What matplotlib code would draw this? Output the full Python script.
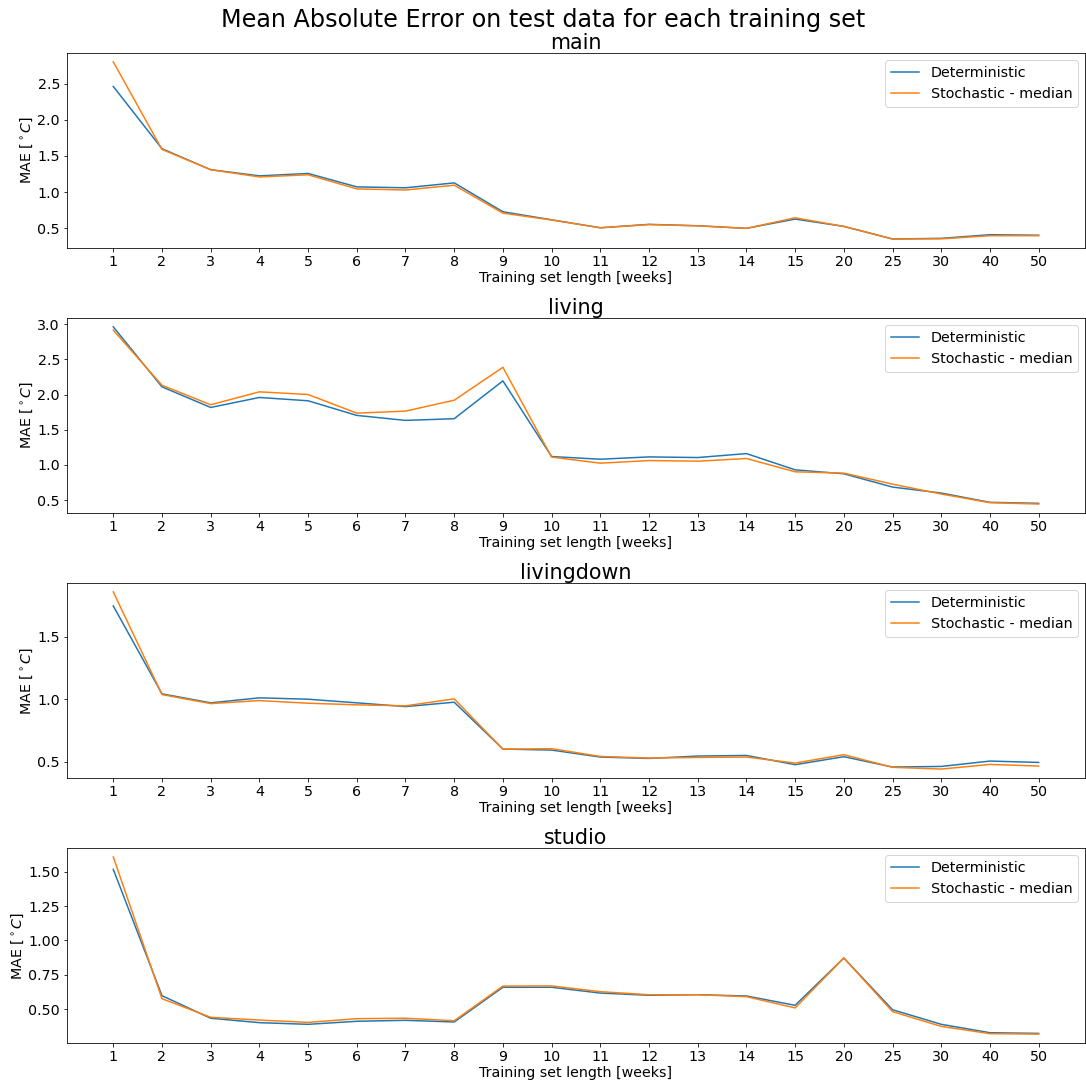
import matplotlib
matplotlib.use('Agg')
import matplotlib.pyplot as plt

# training set lengths (weeks), plotted as categories
weeks = ['1', '2', '3', '4', '5', '6', '7', '8', '9', '10',
         '11', '12', '13', '14', '15', '20', '25', '30', '40', '50']

rooms = ['main', 'living', 'livingdown', 'studio']

# MAE per room
main_det = [2.46, 1.60, 1.31, 1.225, 1.258, 1.073, 1.06, 1.128, 0.729, 0.618,
            0.508, 0.555, 0.536, 0.50, 0.628, 0.527, 0.353, 0.362, 0.412, 0.405]
main_sto = [2.80, 1.59, 1.31, 1.21, 1.24, 1.045, 1.03, 1.096, 0.71, 0.615,
            0.508, 0.552, 0.534, 0.50, 0.646, 0.527, 0.353, 0.355, 0.398, 0.398]

living_det = [2.962, 2.109, 1.816, 1.958, 1.911, 1.703, 1.632, 1.656, 2.194, 1.118,
              1.08, 1.113, 1.104, 1.16, 0.929, 0.873, 0.684, 0.599, 0.467, 0.453]
living_sto = [2.915, 2.132, 1.854, 2.038, 2.0, 1.735, 1.764, 1.919, 2.387, 1.11,
              1.024, 1.061, 1.052, 1.09, 0.901, 0.882, 0.726, 0.585, 0.462, 0.443]

livingdown_det = [1.747, 1.043, 0.971, 1.011, 1.0, 0.971, 0.941, 0.976, 0.601, 0.593,
                  0.537, 0.526, 0.545, 0.55, 0.476, 0.54, 0.457, 0.462, 0.505, 0.494]
livingdown_sto = [1.859, 1.037, 0.965, 0.989, 0.968, 0.955, 0.947, 1.003, 0.60, 0.604,
                  0.542, 0.529, 0.534, 0.537, 0.489, 0.556, 0.455, 0.441, 0.478, 0.465]

studio_det = [1.517, 0.599, 0.435, 0.403, 0.391, 0.413, 0.42, 0.408, 0.66, 0.66,
              0.618, 0.602, 0.606, 0.597, 0.529, 0.873, 0.497, 0.391, 0.33, 0.325]
studio_sto = [1.607, 0.577, 0.442, 0.422, 0.405, 0.432, 0.435, 0.417, 0.669, 0.67,
              0.628, 0.606, 0.606, 0.592, 0.51, 0.873, 0.483, 0.376, 0.323, 0.32]

det = [main_det, living_det, livingdown_det, studio_det]
sto = [main_sto, living_sto, livingdown_sto, studio_sto]

fs = 14.2
fig, axes = plt.subplots(4, 1, figsize=(1086 / 72, 1081 / 72), dpi=72)
fig.subplots_adjust(left=0.0617, right=0.999, top=0.951, bottom=0.0352, hspace=0.36)

for ax, room, d, s in zip(axes, rooms, det, sto):
    ax.plot(weeks, d, color='tab:blue', lw=1.5, label='Deterministic')
    ax.plot(weeks, s, color='tab:orange', lw=1.5, label='Stochastic - median')
    ax.set_title(room, fontsize=20.6, pad=4)
    ax.set_xlabel('Training set length [weeks]', fontsize=fs, labelpad=2)
    ax.set_ylabel(r'MAE [$^\circ C$]', fontsize=fs, labelpad=2)
    ax.tick_params(labelsize=fs)
    ax.legend(loc='upper right', fontsize=fs)

fig.suptitle('Mean Absolute Error on test data for each training set', fontsize=23.9, y=0.993)
plt.savefig('out.png')
